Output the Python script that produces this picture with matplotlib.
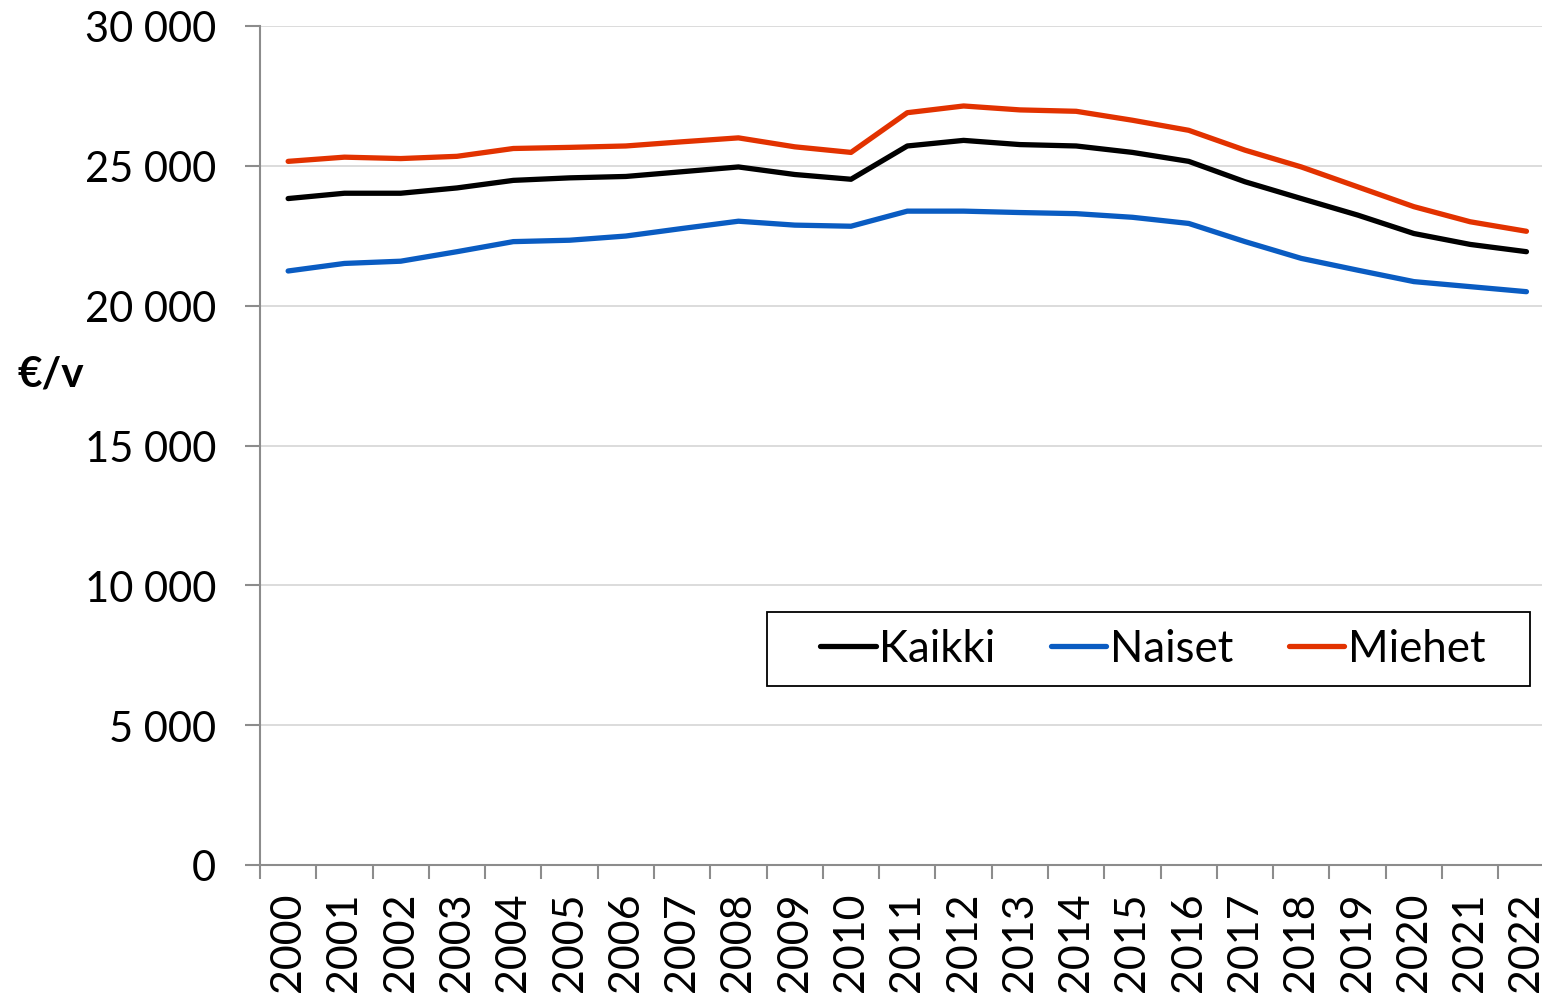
import matplotlib
matplotlib.use("Agg")
import matplotlib.pyplot as plt
from matplotlib.patches import Rectangle
from matplotlib.ticker import FixedLocator, FuncFormatter

years = [str(y) for y in range(2000, 2023)]
kaikki = [23830, 24020, 24020, 24210, 24480, 24570, 24620, 24790, 24960, 24690, 24520,
          25710, 25910, 25760, 25710, 25480, 25160, 24430, 23830, 23240, 22580, 22190, 21930]
naiset = [21240, 21510, 21590, 21930, 22290, 22340, 22490, 22760, 23020, 22880, 22840,
          23380, 23380, 23330, 23290, 23160, 22940, 22290, 21690, 21270, 20860, 20680, 20500]
miehet = [25160, 25310, 25260, 25340, 25620, 25660, 25710, 25860, 26000, 25680, 25480,
          26900, 27140, 27000, 26950, 26630, 26270, 25560, 24960, 24250, 23540, 23000, 22660]
series_names = ["Kaikki", "Naiset", "Miehet"]
colors = ["#000000", "#0a5cc2", "#e23200"]
yticks = [0, 5000, 10000, 15000, 20000, 25000, 30000]

plt.rcParams['font.family'] = ['Lato', 'DejaVu Sans']

W, H = 1542, 995
fig = plt.figure(figsize=(W / 100, H / 100), dpi=100)
left, right, top, bottom = 260, 1554.6, 27, 866
ax = fig.add_axes([left / W, 1 - bottom / H, (right - left) / W, (bottom - top) / H])

x = list(range(len(years)))
for vals, name, c in zip([kaikki, naiset, miehet], series_names, colors):
    ax.plot(x, vals, color=c, lw=3.8, label=name, solid_capstyle='round', solid_joinstyle='round', zorder=3)

ax.set_xlim(-0.5, len(years) - 0.5)
ax.set_ylim(0, 30000)
ax.yaxis.set_major_locator(FixedLocator(yticks))
ax.yaxis.set_major_formatter(FuncFormatter(lambda v, p: f"{int(v):,}".replace(",", " ")))
ax.grid(axis='y', color='#d9d9d9', lw=1.3, zorder=0)

# x: boundaries as major ticks, labels as minor ticks
ax.xaxis.set_major_locator(FixedLocator([i - 0.5 for i in range(len(years) + 1)]))
ax.xaxis.set_major_formatter(FuncFormatter(lambda v, p: ""))
ax.xaxis.set_minor_locator(FixedLocator(x))
ax.set_xticklabels(years, minor=True, rotation=90, fontsize=31)
ax.tick_params(axis='x', which='minor', length=0, pad=19)
ax.tick_params(axis='x', which='major', length=10, width=1.5, color='#8c8c8c')
ax.tick_params(axis='y', length=10.5, width=1.5, color='#8c8c8c', labelsize=30, pad=21)

for s in ['top', 'right']:
    ax.spines[s].set_visible(False)
for s in ['left', 'bottom']:
    ax.spines[s].set_color('#8c8c8c')
    ax.spines[s].set_linewidth(1.5)

fig.text(18 / W, 1 - 375 / H, "€/v", fontsize=30.5, fontweight='bold', ha='left', va='center')

# legend frame drawn separately (wide horizontal padding like the reference)
ax.add_patch(Rectangle((767 / W, 1 - 687 / H), 763 / W, 74 / H, transform=fig.transFigure,
                       fill=True, fc='white', ec='black', lw=1.3, zorder=4, clip_on=False))
leg = ax.legend(loc='center left', bbox_to_anchor=(820 / W, 1 - 650 / H), bbox_transform=fig.transFigure,
                ncol=3, frameon=False, fontsize=31.5, handlelength=1.27,
                handletextpad=0.08, columnspacing=1.27, borderpad=0, borderaxespad=0)
leg.set_zorder(5)

fig.savefig("out.png", dpi=100)
